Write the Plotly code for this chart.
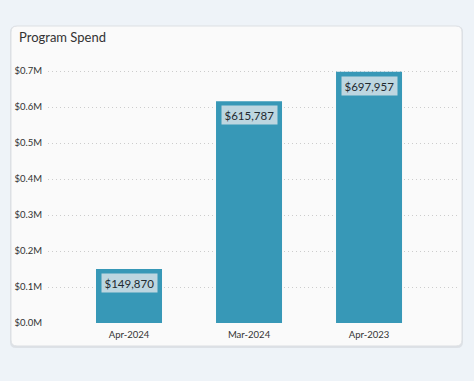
import plotly.graph_objects as go

categories = ["Apr-2024", "Mar-2024", "Apr-2023"]
spend = [149870, 615787, 697957]
tick_vals = [0, 100000, 200000, 300000, 400000, 500000, 600000, 700000]
tick_text = ["$0.0M", "$0.1M", "$0.2M", "$0.3M", "$0.4M", "$0.5M", "$0.6M", "$0.7M"]
title = "Program Spend"

FONT = "Lato, Noto Sans, sans-serif"
W, H = 474, 381
L, R, T, B = 48, 14, 60, 58
pw, ph = W - L - R, H - T - B

def px(x):
    return (x - L) / pw

def py(y):
    return (H - B - y) / ph

fig = go.Figure()
fig.add_trace(go.Bar(
    x=categories, y=spend,
    marker=dict(color="#3798b7", line=dict(width=0)),
    width=0.55, hoverinfo="skip",
))

for c, v in zip(categories, spend):
    fig.add_annotation(
        x=c, y=v, xref="x", yref="y", text=f"${v:,}", showarrow=False,
        yanchor="top", yshift=-4,
        font=dict(family=FONT, size=11.5, color="#1f2a30"),
        bgcolor="#bdd6e0", borderpad=2.5,
    )

def rounded(x0, y0, x1, y1, r):
    X0, X1 = px(x0), px(x1)
    rx = r / pw
    ry = r / ph
    Y0, Y1 = py(y1), py(y0)
    return (f"M{X0+rx},{Y0} L{X1-rx},{Y0} Q{X1},{Y0} {X1},{Y0+ry} "
            f"L{X1},{Y1-ry} Q{X1},{Y1} {X1-rx},{Y1} L{X0+rx},{Y1} "
            f"Q{X0},{Y1} {X0},{Y1-ry} L{X0},{Y0+ry} Q{X0},{Y0} {X0+rx},{Y0} Z")

fig.add_shape(type="path", xref="paper", yref="paper", layer="below",
              path=rounded(10, 26, 463, 348, 6), fillcolor="rgba(0,0,0,0.07)",
              line=dict(width=0))
fig.add_shape(type="path", xref="paper", yref="paper", layer="below",
              path=rounded(11, 26, 462, 346, 6), fillcolor="#fafafa",
              line=dict(color="#dcdfe3", width=1))

fig.add_annotation(x=px(17), y=py(37), xref="paper", yref="paper",
                   text=title, showarrow=False, xanchor="left", yanchor="middle",
                   font=dict(family=FONT, size=13, color="#333"))

fig.update_layout(
    width=W, height=H,
    margin=dict(l=L, r=R, t=T, b=B),
    paper_bgcolor="#eef3f8",
    plot_bgcolor="rgba(0,0,0,0)",
    showlegend=False,
    font=dict(family=FONT, size=9, color="#333"),
    xaxis=dict(range=[-0.675, 2.758], showgrid=False, zeroline=False,
               showline=False, ticks="", tickfont=dict(size=9.5, color="#333"),
               ticklabelstandoff=4, fixedrange=True),
    yaxis=dict(range=[0, 700000 * ph / 252], tickvals=tick_vals, ticktext=tick_text,
               showgrid=True, gridcolor="#cccccc", griddash="1px,3px", gridwidth=1,
               zeroline=False, showline=False, ticks="", ticklabelstandoff=5,
               tickfont=dict(size=9.5, color="#333"), automargin=False),
    bargap=0.45,
)

fig.write_html("out.html", config={"displayModeBar": False},
               post_script="document.body.style.margin='0';document.body.style.padding='0';document.body.style.background='#eef3f8';")
